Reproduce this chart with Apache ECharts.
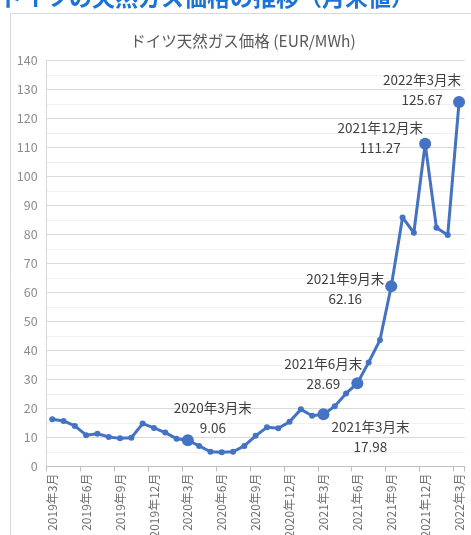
<!DOCTYPE html>
<html><head><meta charset="utf-8">
<script src="https://cdn.jsdelivr.net/npm/echarts@6/dist/echarts.min.js"></script>
<style>html,body{margin:0;padding:0;background:#fff}#c{width:471px;height:535px}</style>
</head><body><div id="c"></div>
<script>
const categories = ['2019年3月','2019年4月','2019年5月','2019年6月','2019年7月','2019年8月','2019年9月','2019年10月','2019年11月','2019年12月',
 '2020年1月','2020年2月','2020年3月','2020年4月','2020年5月','2020年6月','2020年7月','2020年8月','2020年9月','2020年10月','2020年11月','2020年12月',
 '2021年1月','2021年2月','2021年3月','2021年4月','2021年5月','2021年6月','2021年7月','2021年8月','2021年9月','2021年10月','2021年11月','2021年12月',
 '2022年1月','2022年2月','2022年3月'];
const prices = [16.3,15.7,14.0,10.8,11.3,10.2,9.7,9.9,14.8,13.3,
 11.7,9.6,9.06,7.1,5.1,4.9,5.1,7.1,10.6,13.5,13.2,15.4,
 19.7,17.5,17.98,20.8,25.2,28.69,35.9,43.6,62.16,85.9,80.6,111.27,
 82.3,79.8,125.67];
const highlighted = ['2020年3月','2021年3月','2021年6月','2021年9月','2021年12月','2022年3月'];
const chartTitle = 'ドイツ天然ガス価格 (EUR/MWh)';
const headline = 'ドイツの天然ガス価格の推移（月末値）';

// label placement (style only)
const labelOffsets = {
  '2020年3月':[25,-22], '2021年3月':[47,23], '2021年6月':[-34,-9],
  '2021年9月':[-46,3], '2021年12月':[-45,-6], '2022年3月':[-37,-12]
};
const FONT = '"Noto Sans CJK JP", "Noto Sans", sans-serif';
const BLUE = '#4472C4';

const seriesData = prices.map((v,i)=>{
  const name = categories[i];
  if (highlighted.includes(name)) {
    return {value:v, symbolSize:12,
      label:{show:true, position:'inside', offset:labelOffsets[name], align:'center', verticalAlign:'middle',
        formatter: p => p.name + '末\n' + p.value.toFixed(2),
        fontFamily:FONT, fontSize:13.5, color:'#404040', lineHeight:20}};
  }
  return v;
});

const chart = echarts.init(document.getElementById('c'), null, {renderer:'canvas'});
chart.setOption({
  backgroundColor:'#fff',
  animation:false,
  graphic:[
    {type:'text', left:0, top:-14, style:{text:headline, fill:'#1A73D9', font:'bold 23px '+FONT}},
    {type:'rect', shape:{x:10.5,y:13.5,width:520,height:600}, style:{fill:null, stroke:'#d9d9d9', lineWidth:1}},
    {type:'text', x:243, y:41, style:{text:chartTitle, fill:'#595959', font:'15.5px '+FONT, align:'center', verticalAlign:'middle'}}
  ],
  grid:{left:46.6, right:6.3, top:60.5, bottom:68.5, containLabel:false, outerBoundsMode:'none'},
  xAxis:{type:'category', data:categories, boundaryGap:true,
    axisLine:{lineStyle:{color:'#bfbfbf'}},
    axisTick:{show:true, interval:2, length:5, lineStyle:{color:'#bfbfbf'}},
    axisLabel:{interval:2, rotate:90, margin:7, color:'#6f6f6f', fontSize:12, fontFamily:FONT},
    splitLine:{show:false}},
  yAxis:{type:'value', min:0, max:140, interval:10,
    axisLine:{show:true, lineStyle:{color:'#d9d9d9'}},
    axisTick:{show:false},
    axisLabel:{color:'#8c8c8c', fontSize:12.5, fontFamily:FONT, margin:9},
    splitLine:{lineStyle:{color:'#d9d9d9'}},
    minorTick:{show:false, splitNumber:2},
    minorSplitLine:{show:true, lineStyle:{color:'#f0f0f0'}}},
  series:[{type:'line', data:seriesData, symbol:'circle', symbolSize:6,
    itemStyle:{color:BLUE}, lineStyle:{color:BLUE, width:3}}]
});
</script></body></html>
